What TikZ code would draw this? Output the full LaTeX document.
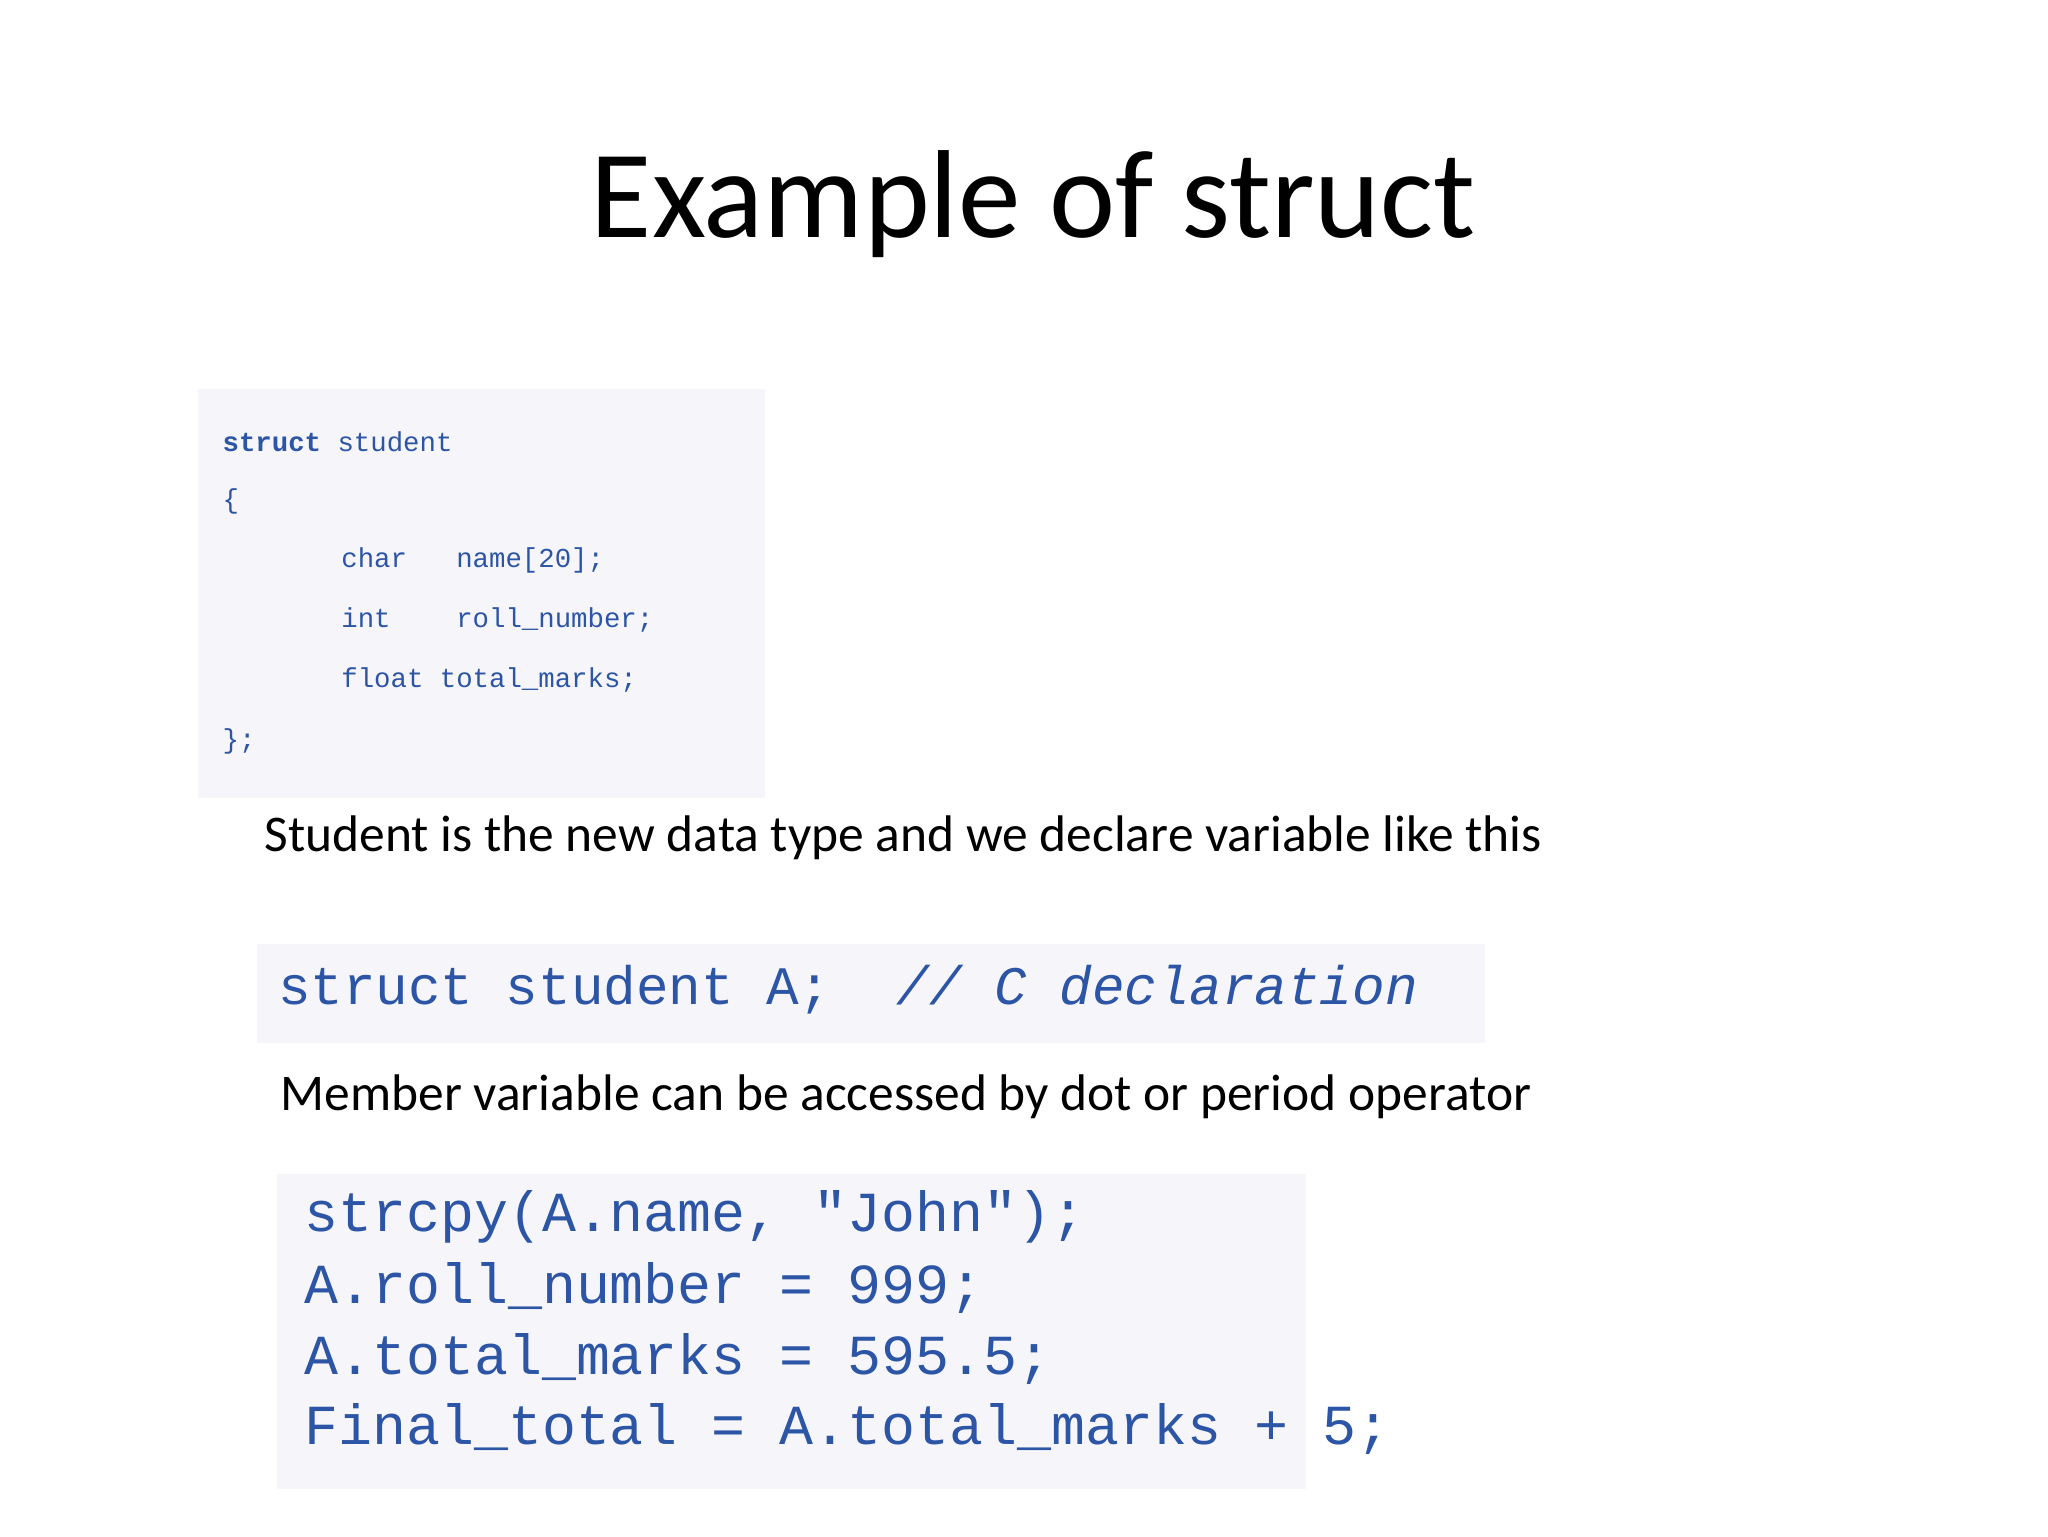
\documentclass[tikz,border=0pt]{standalone}
\usepackage{fontspec}
\setmainfont{Carlito}
\setmonofont{Liberation Mono}
\definecolor{codeblue}{RGB}{45,85,165}
\definecolor{codebg}{RGB}{246,246,250}
\begin{document}
\begin{tikzpicture}[x=0.1mm,y=-0.1mm,
  code/.style={anchor=west,inner sep=0pt,text=codeblue,font=\ttfamily\fontsize{#1}{#1}\selectfont},
  body/.style={anchor=west,inner sep=0pt,font=\fontsize{11.1pt}{13pt}\selectfont},
  bg/.style={fill=codebg,draw=none}]
\useasboundingbox[fill=white] (0,0) rectangle (1552,1164);
\node[inner sep=0pt,font=\fontsize{27pt}{31pt}\selectfont] (title) at (783,155) {Example of struct};
\fill[bg] (150,295) rectangle (580,605);
\node[code=5.9pt] (l1) at (168,335) {\textbf{struct} student};
\node[code=5.9pt] (l2) at (168,380) {\{};
\node[code=5.9pt] (l3) at (258,425) {char\ \ \ name[20];};
\node[code=5.9pt] (l4) at (258,470) {int\ \ \ \ roll\_number;};
\node[code=5.9pt] (l5) at (258,515) {float total\_marks;};
\node[code=5.9pt] (l6) at (168,562) {\};};
\node[body] (t1) at (200,635) {Student is the new data type and we declare variable like this};
\fill[bg] (195,715) rectangle (1125,790);
\node[code=11.7pt] (d) at (210,750) {struct student A;\ \ \textit{// C declaration}};
\node[body] (t2) at (212,831) {Member variable can be accessed by dot or period operator};
\fill[bg] (210,890) rectangle (990,1128);
\node[code=12.2pt] (m1) at (230,922) {strcpy(A.name, "John");};
\node[code=12.2pt] (m2) at (230,976) {A.roll\_number = 999;};
\node[code=12.2pt] (m3) at (230,1030) {A.total\_marks = 595.5;};
\node[code=12.2pt] (m4) at (230,1083) {Final\_total = A.total\_marks + 5;};
\end{tikzpicture}
\end{document}
